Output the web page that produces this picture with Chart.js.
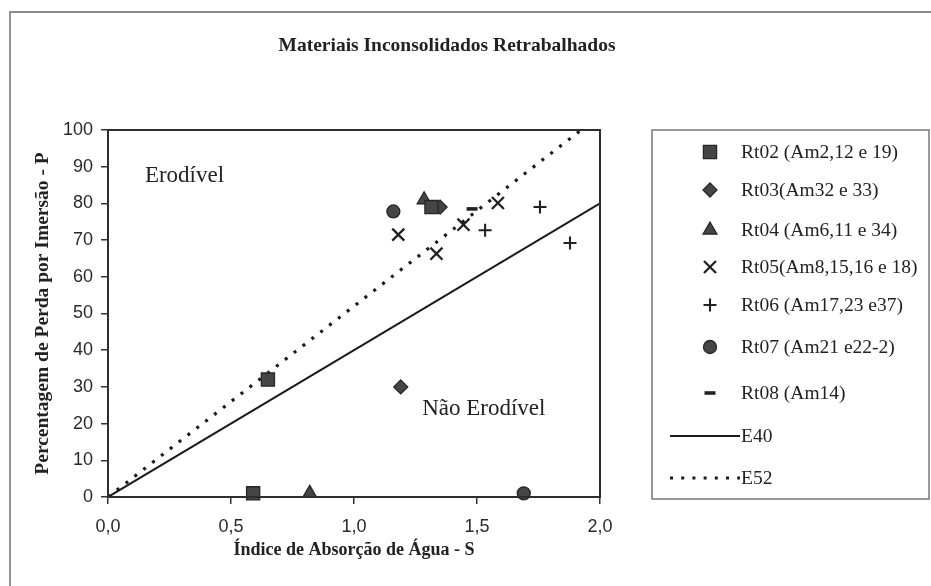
<!DOCTYPE html>
<html><head><meta charset="utf-8">
<script src="https://cdn.jsdelivr.net/npm/chart.js@4.4.1/dist/chart.umd.min.js"></script>
<style>html,body{margin:0;padding:0;background:#fff;}#wrap{position:relative;width:931px;height:586px;}</style>
</head><body><div id="wrap"><canvas id="c" width="931" height="586"></canvas></div>
<script>
// ---- data ----
const chartTitle = 'Materiais Inconsolidados Retrabalhados';
const xTitle = 'Índice de Absorção de Água - S';
const yTitle = 'Percentagem de Perda por Imersão - P';
const xTicks = [0, 0.5, 1.0, 1.5, 2.0];
const yTicks = [0, 10, 20, 30, 40, 50, 60, 70, 80, 90, 100];
const seriesNames = ['Rt02 (Am2,12 e 19)', 'Rt03(Am32 e 33)', 'Rt04 (Am6,11 e 34)', 'Rt05(Am8,15,16 e 18)',
  'Rt06 (Am17,23 e37)', 'Rt07 (Am21 e22-2)', 'Rt08 (Am14)', 'E40', 'E52'];
const rt02S = [0.59, 0.65, 1.315]; const rt02P = [1, 32, 79];
const rt03S = [1.19, 1.35];        const rt03P = [30, 79];
const rt04S = [0.82, 1.285];       const rt04P = [1, 81];
const rt05S = [1.18, 1.335, 1.445, 1.585]; const rt05P = [71.5, 66.3, 74.2, 80.1];
const rt06S = [1.533, 1.756, 1.878]; const rt06P = [72.7, 79, 69.2];
const rt07S = [1.16, 1.69];        const rt07P = [77.8, 1];
const rt08S = [1.48];              const rt08P = [78.5];
const e40S = [0, 2.0];             const e40P = [0, 80];
const e52S = [0, 1.923];           const e52P = [0, 100];
const regionLabels = ['Erodível', 'Não Erodível'];
const regionS = [0.15, 1.277];
const regionP = [85.8, 22.4];

const pts = (s, p) => s.map((v, i) => ({x: v, y: p[i]}));
const sym = (label, s, p, style, r, extra) => Object.assign({
  label, data: pts(s, p), pointStyle: style, pointRadius: r, pointHoverRadius: r,
  backgroundColor: '#454545', borderColor: '#262626', pointBorderWidth: 1.3, showLine: false, clip: false
}, extra || {});

const datasets = [
  sym(seriesNames[0], rt02S, rt02P, 'rect', 9.3),
  sym(seriesNames[1], rt03S, rt03P, 'rectRot', 7),
  sym(seriesNames[2], rt04S, rt04P, 'triangle', 8),
  sym(seriesNames[3], rt05S, rt05P, 'crossRot', 8.5, {pointBorderWidth: 2.3, borderColor: '#222'}),
  sym(seriesNames[4], rt06S, rt06P, 'cross', 6.5, {pointBorderWidth: 2.1, borderColor: '#222'}),
  sym(seriesNames[5], rt07S, rt07P, 'circle', 6.5),
  sym(seriesNames[6], rt08S, rt08P, 'line', 5.5, {pointBorderWidth: 3.6, borderColor: '#222'}),
  {label: seriesNames[7], data: pts(e40S, e40P), showLine: true, pointRadius: 0, borderColor: '#1a1a1a', borderWidth: 2, fill: false},
  {label: seriesNames[8], data: pts(e52S, e52P), showLine: true, pointRadius: 0, borderColor: '#1a1a1a', borderWidth: 3.2, borderDash: [3, 8.2], fill: false}
];

const legendY = [152, 190, 230, 267, 305, 347, 393, 436, 478];

const decor = {
  id: 'decor',
  beforeDraw(chart) {
    const ctx = chart.ctx;
    ctx.save();
    ctx.fillStyle = '#fff';
    ctx.fillRect(0, 0, chart.width, chart.height);
    ctx.strokeStyle = '#8a8a8a';
    ctx.lineWidth = 1.8;
    ctx.beginPath();
    ctx.moveTo(10, 586); ctx.lineTo(10, 12); ctx.lineTo(931, 12);
    ctx.stroke();
    ctx.strokeStyle = '#808080';
    ctx.lineWidth = 1.6;
    ctx.strokeRect(652, 130, 277, 369);
    ctx.restore();
  },
  afterDraw(chart) {
    const ctx = chart.ctx, a = chart.chartArea;
    const xs = chart.scales.x, ys = chart.scales.y;
    ctx.save();
    ctx.strokeStyle = '#2e2e2e';
    ctx.lineWidth = 2;
    ctx.strokeRect(a.left, a.top, a.right - a.left, a.bottom - a.top);
    ctx.fillStyle = '#222';
    ctx.font = 'bold 19.5px "Liberation Serif", "Times New Roman", serif';
    ctx.textAlign = 'center';
    ctx.textBaseline = 'alphabetic';
    ctx.fillText(chartTitle, 447, 51);
    ctx.font = '23px "Liberation Serif", "Times New Roman", serif';
    ctx.textAlign = 'left';
    regionLabels.forEach((t, i) => ctx.fillText(t, xs.getPixelForValue(regionS[i]), ys.getPixelForValue(regionP[i])));
    ctx.font = '19.5px "Liberation Serif", "Times New Roman", serif';
    ctx.textBaseline = 'middle';
    chart.data.datasets.forEach((ds, i) => {
      const y = legendY[i];
      ctx.fillStyle = '#222';
      ctx.fillText(ds.label, 741, y + 1);
      ctx.save();
      if (ds.showLine) {
        ctx.strokeStyle = ds.borderColor;
        ctx.lineWidth = ds.borderWidth;
        ctx.setLineDash(ds.borderDash || []);
        ctx.beginPath(); ctx.moveTo(670, y); ctx.lineTo(740, y); ctx.stroke();
      } else {
        ctx.fillStyle = ds.backgroundColor;
        ctx.strokeStyle = ds.borderColor;
        ctx.lineWidth = ds.pointBorderWidth;
        Chart.helpers.drawPoint(ctx, {pointStyle: ds.pointStyle, radius: ds.pointRadius, rotation: 0, borderWidth: ds.pointBorderWidth}, 710, y);
      }
      ctx.restore();
    });
    ctx.restore();
  }
};

const tickFont = {family: '"Liberation Sans", Arial, sans-serif', size: 18};
new Chart(document.getElementById('c'), {
  type: 'scatter',
  data: {datasets},
  options: {
    responsive: false, animation: false, devicePixelRatio: 1,
    layout: {padding: {top: 130, right: 331, left: 0, bottom: 0}},
    plugins: {legend: {display: false}, tooltip: {enabled: false}, title: {display: false}},
    scales: {
      x: {
        type: 'linear', min: 0, max: 2,
        afterFit: s => { s.height = 89; },
        afterBuildTicks: s => { s.ticks = xTicks.map(v => ({value: v})); },
        ticks: {font: tickFont, color: '#2a2a2a', padding: 12, callback: v => v.toFixed(1).replace('.', ',')},
        grid: {drawOnChartArea: false, drawTicks: true, tickLength: 7, color: '#333', lineWidth: 1.5},
        border: {color: '#2e2e2e', width: 2},
        title: {display: true, text: xTitle, color: '#222', font: {family: '"Liberation Serif", "Times New Roman", serif', size: 18, weight: 'bold'}, padding: {top: 0, bottom: 25}}
      },
      y: {
        type: 'linear', min: 0, max: 100,
        afterFit: s => { s.width = 108; },
        afterBuildTicks: s => { s.ticks = yTicks.map(v => ({value: v})); },
        ticks: {font: tickFont, color: '#2a2a2a', padding: 8},
        grid: {drawOnChartArea: false, drawTicks: true, tickLength: 7, color: '#333', lineWidth: 1.5},
        border: {color: '#2e2e2e', width: 2},
        title: {display: true, text: yTitle, color: '#222', font: {family: '"Liberation Serif", "Times New Roman", serif', size: 19.5, weight: 'bold'}, padding: {top: 31, bottom: 0}}
      }
    }
  },
  plugins: [decor]
});
</script>
</body></html>
